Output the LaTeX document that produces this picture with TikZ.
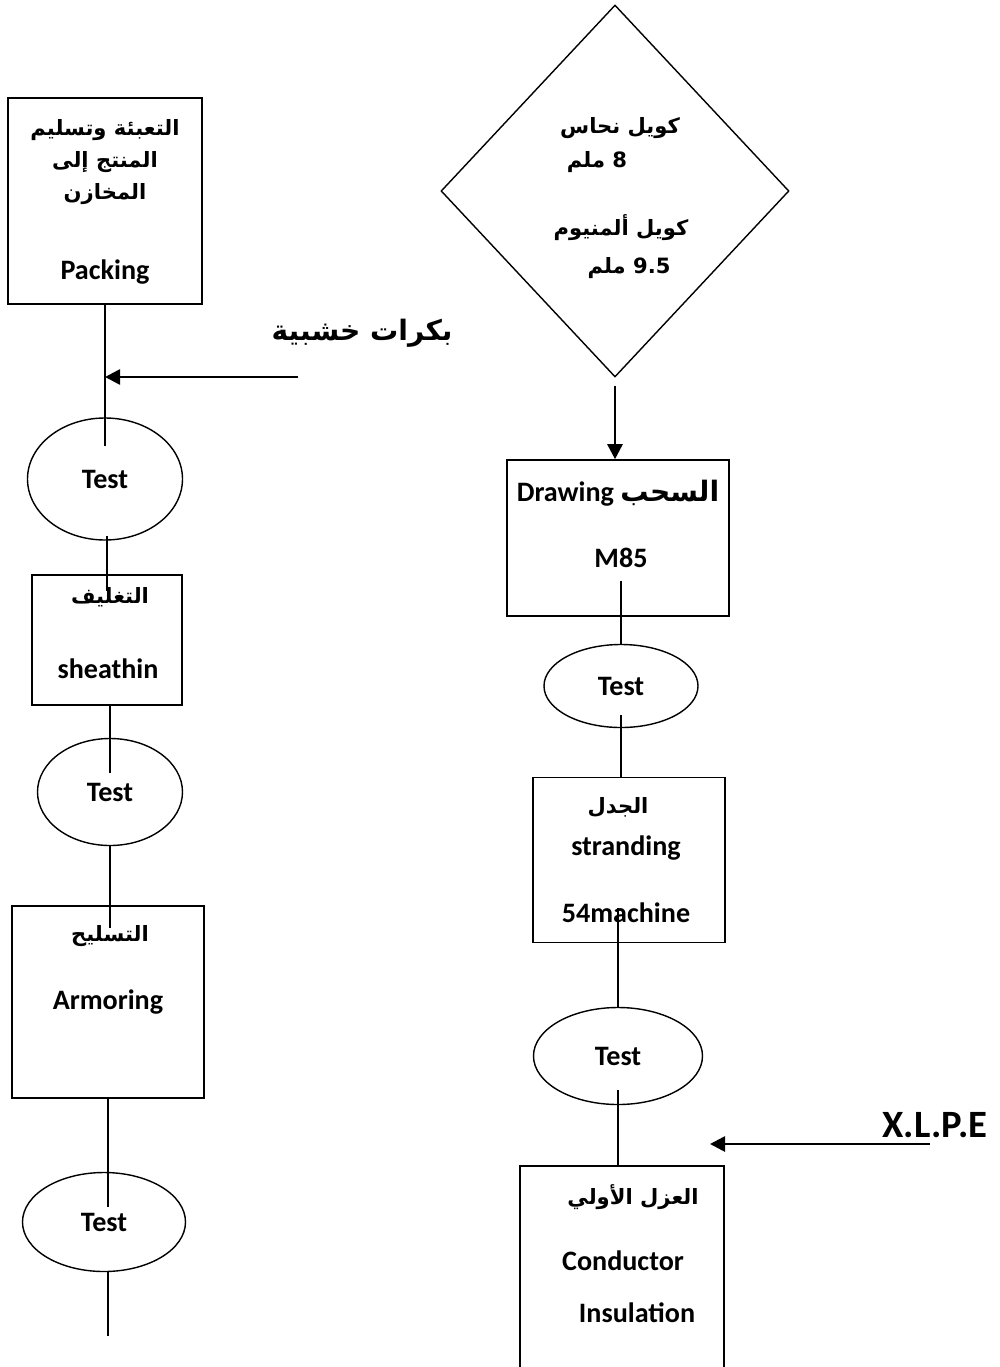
\documentclass[tikz,border=0pt]{standalone}
\usepackage{fontspec}
\setmainfont{Carlito}
\newfontfamily\arfont[Script=Arabic]{DejaVu Sans}
\TeXXeTstate=1
\usetikzlibrary{shapes.geometric,arrows.meta}
\newcommand{\arab}[1]{{\arfont\bfseries\beginR #1\endR}}

\begin{document}
\begin{tikzpicture}[x=0.2mm,y=-0.2mm,
  box/.style={draw,line width=0.9pt,inner sep=0pt},
  testnode/.style={draw,ellipse,line width=0.8pt,inner sep=0pt,font=\bfseries\fontsize{16}{19}\selectfont},
  txt/.style={font=\bfseries\fontsize{16}{19}\selectfont,inner sep=0pt},
  artxt/.style={font=\fontsize{12}{18.2}\selectfont,align=center,inner sep=0pt},
  link/.style={line width=1.5pt},
  flow/.style={line width=1.5pt,-{Triangle[length=3mm,width=3mm]}}]
\useasboundingbox (0,0) rectangle (1000,1367);

% left column
\node[box,minimum width=38.8mm,minimum height=41.2mm] (pack) at (105,201) {};
\node[artxt] (pack-ar) at (105,162) {\arab{التعبئة وتسليم}\\\arab{المنتج إلى}\\\arab{المخازن}};
\node[txt] (pack-en) at (105,272) {Packing};

\node[testnode,minimum width=31mm,minimum height=24.4mm] (t1) at (105,479) {Test};

\node[box,minimum width=30mm,minimum height=26mm] (sh) at (107,640) {};
\node[artxt] (sh-ar) at (110,597) {\arab{التغليف}};
\node[txt] (sh-en) at (108,669) {sheathin};

\node[testnode,minimum width=29mm,minimum height=21.4mm] (t2) at (110,792) {Test};

\node[box,minimum width=38.4mm,minimum height=38.4mm] (arm) at (108,1002) {};
\node[artxt] (arm-ar) at (110,936) {\arab{التسليح}};
\node[txt] (arm-en) at (108,1002) {Armoring};

\node[testnode,minimum width=32.6mm,minimum height=19.8mm] (t3) at (104,1222) {Test};
\coordinate (left-end) at (108,1336);

% wooden reels
\node[artxt,font=\fontsize{16}{19}\selectfont] (reel) at (362,333) {\arab{بكرات خشبية}};
\coordinate (reel-src) at (298,377);

% right column
\node[draw,diamond,line width=0.8pt,minimum width=69.6mm,minimum height=74.4mm,inner sep=0pt] (coil) at (615,191) {};
\node[artxt] (cu) at (620,128) {\arab{كويل نحاس}};
\node[artxt] (cu-mm) at (597,162) {\arab{\beginL 8\endL{} ملم}};
\node[artxt] (al) at (621,228) {\arab{كويل ألمنيوم}};
\node[artxt] (al-mm) at (629,268) {\arab{\beginL 9.5\endL{} ملم}};

\node[box,minimum width=44.4mm,minimum height=31.2mm] (drw) at (618,538) {};
\node[txt] (drw-en) at (618,493) {Drawing \arab{السحب}};
\node[txt] (drw-m) at (621,558) {M85};

\node[testnode,minimum width=30.8mm,minimum height=16.6mm] (t4) at (621,686) {Test};

\node[box,minimum width=38.4mm,minimum height=33mm] (strand) at (629,860) {};
\node[artxt] (strand-ar) at (618,807) {\arab{الجدل}};
\node[txt] (strand-en) at (626,848) {stranding};
\node[txt] (strand-m) at (626,913) {54machine};

\node[testnode,minimum width=33.8mm,minimum height=19.4mm] (t5) at (618,1056) {Test};

\node[box,minimum width=40.8mm,minimum height=52mm] (ins) at (622,1296) {};
\node[artxt] (ins-ar) at (633,1197) {\arab{العزل الأولي}};
\node[txt] (ins-en) at (623,1261) {Conductor};
\node[txt] (ins-en2) at (637,1313) {Insulation};

\node[font=\bfseries\fontsize{22}{26}\selectfont,inner sep=0pt] (xlpe) at (935,1125) {X.L.P.E};
\coordinate (xlpe-src) at (930,1144);
\coordinate (xlpe-dst) at (710,1144);

% connectors
\draw[link,shorten >=-5.8mm] (pack.south) -- (pack.south |- t1.north);
\draw[flow] (reel-src) -- (reel-src -| pack.south);
\draw[link,shorten <=-1mm,shorten >=-3.4mm] (sh.north |- t1.south) -- (sh.north);
\draw[link,shorten >=-7mm] (t2.north |- sh.south) -- (t2.north);
\draw[link,shorten >=-4.6mm] (t2.south) -- (t2.south |- arm.north);
\draw[link,shorten >=-7mm] (arm.south) -- (arm.south |- t3.north);
\draw[link] (left-end |- t3.south) -- (left-end);

\draw[flow,shorten <=1.6mm] (coil.south) -- (coil.south |- drw.north);
\draw[link,shorten <=-7.2mm] (t4.north |- drw.south) -- (t4.north);
\draw[link,shorten <=-2.6mm] (t4.south) -- (t4.south |- strand.north);
\draw[link,shorten <=-7mm] (strand.south -| t5.north) -- (t5.north);
\draw[link,shorten <=-3mm] (t5.south) -- (t5.south |- ins.north);
\draw[flow] (xlpe-src) -- (xlpe-dst);
\end{tikzpicture}
\end{document}
